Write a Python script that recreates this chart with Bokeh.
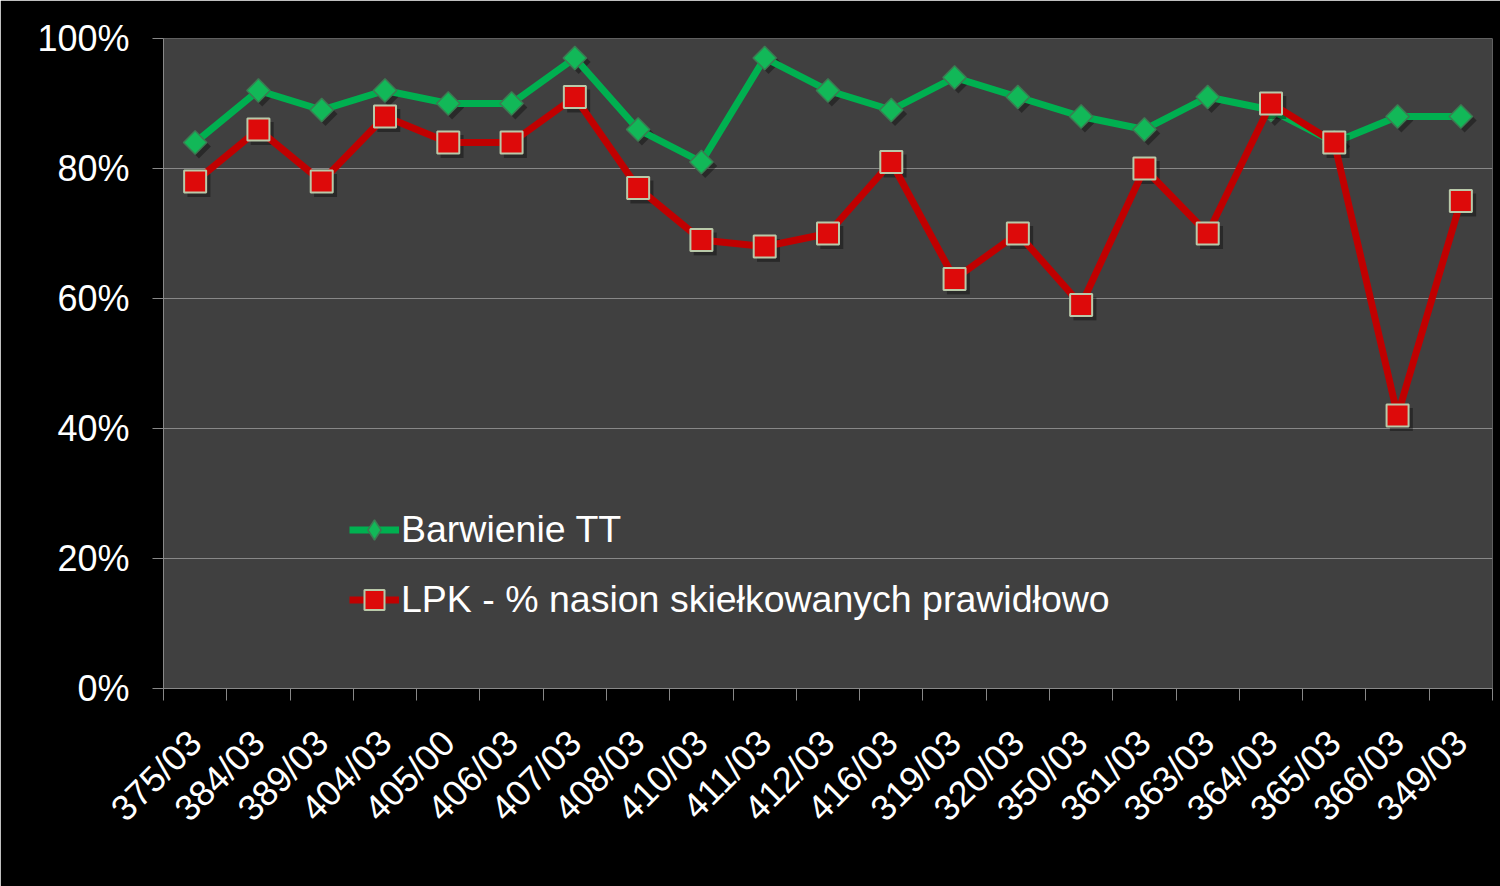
import math
from bokeh.plotting import figure
from bokeh.models import FixedTicker, Legend, LegendItem, ColumnDataSource
from bokeh.transform import dodge
from bokeh.embed import file_html
from bokeh.resources import INLINE

categories = ["375/03", "384/03", "389/03", "404/03", "405/00", "406/03", "407/03",
              "408/03", "410/03", "411/03", "412/03", "416/03", "319/03", "320/03",
              "350/03", "361/03", "363/03", "364/03", "365/03", "366/03", "349/03"]
barwienie_tt = [84, 92, 89, 92, 90, 90, 97, 86, 81, 97, 92, 89, 94, 91, 88, 86, 91, 89, 84, 88, 88]
lpk = [78, 86, 78, 88, 84, 84, 91, 77, 69, 68, 70, 81, 63, 70, 59, 80, 70, 90, 84, 42, 75]
y_ticks = [0, 20, 40, 60, 80, 100]

n = len(categories)
xs = [i + 0.5 for i in range(n)]
src = ColumnDataSource(dict(x=xs, g=barwienie_tt, r=lpk))

FONT = "Liberation Sans"
GRID = "#888888"

p = figure(frame_width=1329, frame_height=650, width=1500, height=886,
           x_range=(0, n), y_range=(0, 100),
           output_backend="svg", toolbar_location=None,
           min_border_left=163, min_border_right=8, min_border_top=38, min_border_bottom=198,
           background_fill_color="#404040", border_fill_color="black")
p.outline_line_color = None

# y axis
p.yaxis.ticker = FixedTicker(ticks=y_ticks, minor_ticks=[])
p.yaxis.major_label_overrides = {t: f"{t}%" for t in y_ticks}
p.yaxis.major_label_text_font = FONT
p.yaxis.major_label_text_font_size = "36px"
p.yaxis.major_label_text_color = "white"
p.yaxis.major_label_standoff = 23
p.yaxis.major_tick_out = 11
p.yaxis.major_tick_in = 0
p.yaxis.minor_tick_out = 0
p.yaxis.axis_line_color = GRID
p.yaxis.major_tick_line_color = GRID

# x axis: labels at centers, ticks at boundaries
p.xaxis.ticker = FixedTicker(ticks=xs, minor_ticks=list(range(n + 1)))
p.xaxis.major_label_overrides = {x: c for x, c in zip(xs, categories)}
p.xaxis.major_label_orientation = math.pi / 4
p.xaxis.major_label_text_font = FONT
p.xaxis.major_label_text_font_size = "36px"
p.xaxis.major_label_text_color = "white"
p.xaxis.major_label_standoff = 36
p.xaxis.major_tick_out = 0
p.xaxis.major_tick_in = 0
p.xaxis.minor_tick_out = 12
p.xaxis.minor_tick_in = 0
p.xaxis.minor_tick_line_color = GRID
p.xaxis.axis_line_color = GRID

p.xgrid.grid_line_color = None
p.ygrid.ticker = FixedTicker(ticks=y_ticks)
p.ygrid.grid_line_color = GRID
p.ygrid.grid_line_width = 1

# shadows
p.scatter(dodge("x", 0.06, range=p.x_range), dodge("g", -0.6, range=p.y_range), source=src,
          marker="square", angle=math.pi / 4, size=17, fill_color="black", fill_alpha=0.35, line_color=None)

g_line = p.line("x", "g", source=src, line_color="#00B050", line_width=7)
g_pts = p.scatter("x", "g", source=src, marker="square", angle=math.pi / 4, size=16.5,
                  fill_color="#12B858", line_color="#3C7A52", line_width=1.5)
# legend-only key (legend keys are never rotated, so use the diamond marker there)
g_key = p.scatter("x", "g", source=src, marker="diamond", size=24,
                  fill_color="#12B858", line_color="#3C7A52", line_width=1.5, visible=False)

p.scatter(dodge("x", 0.06, range=p.x_range), dodge("r", -0.6, range=p.y_range), source=src,
          marker="square", size=23, fill_color="black", fill_alpha=0.35, line_color=None)

r_line = p.line("x", "r", source=src, line_color="#C00000", line_width=7)
r_pts = p.scatter("x", "r", source=src, marker="square", size=22,
                  fill_color="#DD0A0A", line_color="#B9C9A9", line_width=2)

legend = Legend(items=[
    LegendItem(label="Barwienie TT", renderers=[g_line, g_key]),
    LegendItem(label="LPK - % nasion skiełkowanych prawidłowo", renderers=[r_line, r_pts]),
], location=(186, 60))
legend.background_fill_alpha = 0
legend.border_line_color = None
legend.inactive_fill_alpha = 0
legend.label_text_font = FONT
legend.label_text_font_size = "37.5px"
legend.label_text_color = "white"
legend.glyph_width = 50
legend.glyph_height = 57
legend.label_height = 57
legend.label_standoff = 2
legend.spacing = 13
legend.padding = 0
legend.margin = 0
legend.click_policy = "none"
p.add_layout(legend, "center")

open("out.html", "w").write(file_html(p, INLINE))
